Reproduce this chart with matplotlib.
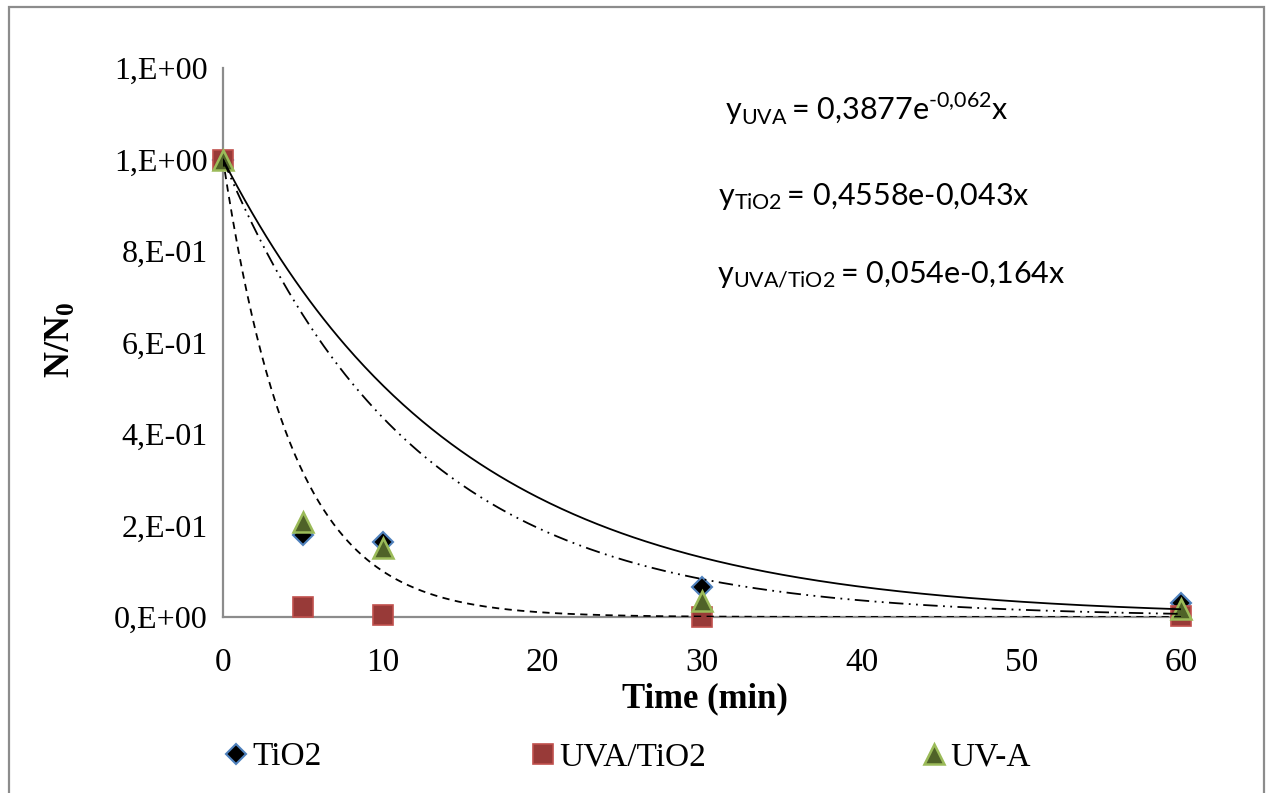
import numpy as np
import matplotlib.pyplot as plt
from matplotlib.lines import Line2D
from matplotlib.patches import Rectangle

# sampling times (min)
time = [0, 5, 10, 30, 60]

# N/N0 values
tio2 = [1.0, 0.18, 0.165, 0.065, 0.03]
uva_tio2 = [1.0, 0.022, 0.004, 0.0, 0.002]
uva = [1.0, 0.208, 0.15, 0.035, 0.017]

# decay constants of the drawn trend curves (1/min)
k_solid = 0.068
k_dashdot = 0.083
k_dashed = 0.23

x_ticks = [0, 10, 20, 30, 40, 50, 60]
y_ticks = [0, 0.2, 0.4, 0.6, 0.8, 1.0, 1.2]
y_labels = ["0,E+00", "2,E-01", "4,E-01", "6,E-01", "8,E-01", "1,E+00", "1,E+00"]

equations = [
    r"$\mathrm{y_{UVA}}\,$= 0,3877e$^{\mathrm{‐0{,}062}}$x",
    r"$\mathrm{y_{TiO2}}\,$= 0,4558e-0,043x",
    r"$\mathrm{y_{UVA/TiO2}}\,$= 0,054e-0,164x",
]

plt.rcParams['mathtext.fontset'] = 'custom'
plt.rcParams['mathtext.rm'] = 'Lato'
plt.rcParams['mathtext.bf'] = 'Liberation Serif:bold'

W, H = 1266, 793
fig = plt.figure(figsize=(W / 100, H / 100), dpi=100)
ax = fig.add_axes([223 / W, 1 - 617 / H, (1181 - 223) / W, (617 - 68) / H])

serif = "Liberation Serif"
grey = "#8c8c8c"

# outer frame of the chart area
fig.patches.append(Rectangle((9 / W, -0.05), (1264 - 9) / W, 1.05 - 7 / H,
                             transform=fig.transFigure, fill=False,
                             edgecolor=grey, linewidth=1.6))

# markers
mk_tio2 = dict(marker="D", markersize=10, markerfacecolor="black",
               markeredgecolor="#4F81BD", markeredgewidth=1.5, linestyle="none")
mk_uvatio2 = dict(marker="s", markersize=14, markerfacecolor="#983A38",
                  markeredgecolor="#C0504D", markeredgewidth=1.2, linestyle="none")
mk_uva = dict(marker="^", markersize=14, markerfacecolor="#4F6228",
              markeredgecolor="#9BBB59", markeredgewidth=1.8, linestyle="none")

ax.plot(time, tio2, zorder=3, clip_on=False, **mk_tio2)
ax.plot(time, uva_tio2, zorder=4, clip_on=False, **mk_uvatio2)
ax.plot(time, uva, zorder=5, clip_on=False, **mk_uva)

# trend curves
t = np.linspace(0, 60, 400)
ax.plot(t, np.exp(-k_solid * t), color="black", linewidth=1.3, zorder=6)
ax.plot(t, np.exp(-k_dashdot * t), color="black", linewidth=1.3, zorder=6,
        dashes=(8, 3, 1, 3, 1, 3))
ax.plot(t, np.exp(-k_dashed * t), color="black", linewidth=1.3, zorder=6,
        dashes=(4, 3))

ax.set_xlim(0, 60)
ax.set_ylim(0, 1.2)
ax.set_xticks(x_ticks)
ax.set_xticklabels([str(v) for v in x_ticks], fontfamily=serif, fontsize=24)
ax.set_yticks(y_ticks)
ax.set_yticklabels(y_labels, fontfamily=serif, fontsize=23)
ax.tick_params(axis="y", length=0, pad=11)
ax.tick_params(axis="x", length=0, pad=22)
for s in ["top", "right"]:
    ax.spines[s].set_visible(False)
for s in ["left", "bottom"]:
    ax.spines[s].set_color(grey)
    ax.spines[s].set_linewidth(1.6)

fig.text(705 / W, 1 - 699 / H, "Time (min)", fontfamily=serif, fontweight="bold",
         fontsize=25, ha="center", va="center")
fig.text(60 / W, 1 - 340 / H, r"$\mathbf{N/N_0}$", fontsize=26, rotation=90,
         ha="center", va="center")

# equations
eq_pos = [(725, 120), (718, 205), (717, 283)]
for (px, py), eq in zip(eq_pos, equations):
    fig.text(px / W, 1 - py / H, eq, fontfamily="Lato", fontsize=22,
             ha="left", va="baseline")

# legend entries
leg_items = [
    (240, "TiO2", mk_tio2),
    (547, "UVA/TiO2", mk_uvatio2),
    (938, "UV-A", mk_uva),
]
for px, label, mk in leg_items:
    h = Line2D([], [], **mk)
    fig.legend([h], [label], loc="center left",
               bbox_to_anchor=((px - 16) / W, 1 - 757 / H), frameon=False,
               prop={"family": serif, "size": 24}, handlelength=0.7,
               handletextpad=0.15, borderpad=0, borderaxespad=0)

fig.savefig("out.png", dpi=100)
